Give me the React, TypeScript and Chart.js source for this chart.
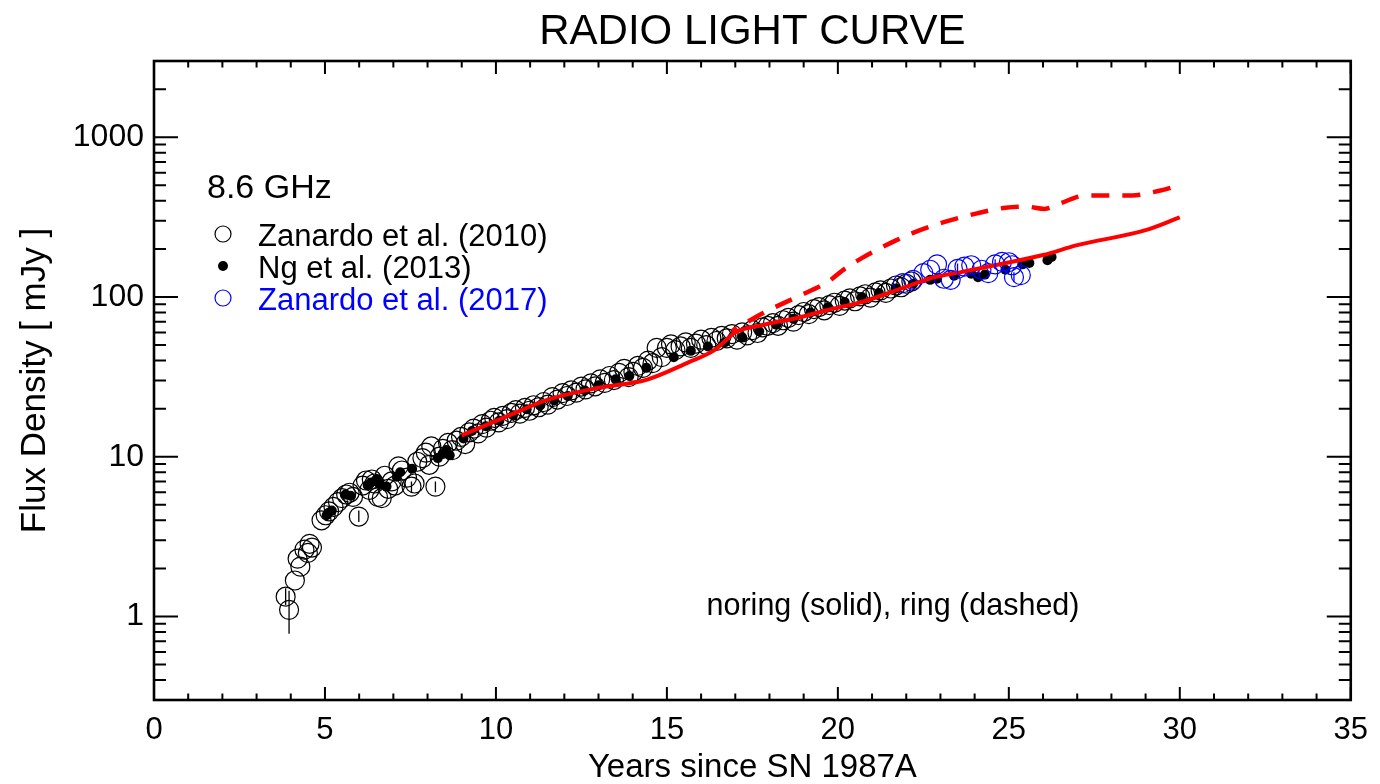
import React, { useEffect, useRef } from "react";
import { Chart, registerables } from "chart.js";

Chart.register(...registerables);

const FONT = '"Liberation Sans", Arial, Helvetica, sans-serif';

// ---- texts ----
const TITLE = "RADIO LIGHT CURVE";
const X_TITLE = "Years since SN 1987A";
const Y_TITLE = "Flux Density [ mJy ]";
const LEGEND_HEADER = "8.6 GHz";
const NOTE = "noring (solid), ring (dashed)";

// ---- axes ----
const X_MIN = 0;
const X_MAX = 35;
const Y_MIN = 0.3;
const Y_MAX = 3000;
const X_LABELED_TICKS = [0, 5, 10, 15, 20, 25, 30, 35];
const Y_LABELED_TICKS = [1, 10, 100, 1000];
const Y_DECADES = [0.1, 1, 10, 100, 1000];
const Y_MULTIPLIERS = [1, 2, 3, 4, 5, 6, 7, 8, 9];

// ---- Zanardo et al. (2010): open black circles ----
const ZAN2010_YEARS = [
  3.85, 3.95, 4.12, 4.2, 4.28, 4.4, 4.5, 4.55, 4.62, 4.9, 5.02, 5.12, 5.25, 5.38, 5.5, 5.62, 5.72, 5.82,
  5.99, 6.1, 6.2, 6.3, 6.37, 6.45, 6.55, 6.66, 6.75, 6.85, 6.95, 7.05, 7.15, 7.25, 7.4, 7.53, 7.62, 7.7,
  7.85, 7.95, 8.05, 8.11, 8.23, 8.35, 8.45, 8.6, 8.72, 8.85, 8.98, 9.1, 9.22, 9.35, 9.48, 9.6, 9.72, 9.85,
  9.95, 10.08, 10.2, 10.32, 10.45, 10.58, 10.7, 10.85, 10.98, 11.1, 11.25, 11.4, 11.52, 11.65, 11.8, 11.95,
  12.08, 12.2, 12.35, 12.5, 12.62, 12.78, 12.9, 13.05, 13.18, 13.32, 13.45, 13.6, 13.75, 13.88, 14.02,
  14.15, 14.3, 14.45, 14.58, 14.7, 14.85, 15.0, 15.12, 15.25, 15.4, 15.55, 15.7, 15.85, 16.0, 16.15, 16.3,
  16.45, 16.6, 16.75, 16.9, 17.05, 17.2, 17.35, 17.5, 17.65, 17.8, 17.95, 18.1, 18.25, 18.4, 18.55, 18.7,
  18.85, 19.0, 19.15, 19.3, 19.45, 19.6, 19.75, 19.9, 20.05, 20.2, 20.35, 20.5, 20.65, 20.8, 20.95, 21.1,
  21.25, 21.4, 21.55, 21.7, 21.85, 22.0, 22.15,
];
const ZAN2010_FLUX = [
  1.33, 1.1, 1.68, 2.3, 2.05, 2.62, 2.5, 2.85, 2.7, 4.0, 4.3, 4.55, 4.85, 5.2, 5.5, 5.8, 5.95, 5.6,
  4.22, 6.6, 7.1, 6.2, 7.2, 6.8, 5.6, 5.5, 7.6, 6.3, 7.0, 6.6, 8.7, 8.2, 7.4, 6.5, 6.8, 9.3,
  9.8, 10.6, 8.9, 11.6, 6.5, 10.0, 11.2, 12.2, 11.0, 12.6, 13.3, 12.0, 14.2, 15.0, 14.0, 16.0, 15.2, 16.8,
  17.5, 16.4, 18.0, 17.2, 18.8, 19.6, 18.6, 20.2, 19.4, 21.0, 20.4, 22.0, 21.2, 23.6, 22.8, 25.0,
  24.0, 26.0, 25.2, 27.5, 26.4, 28.8, 27.6, 30.5, 29.0, 32.0, 30.2, 33.5, 35.5, 31.5, 34.0,
  37.0, 36.0, 40.0, 38.5, 48.0, 42.0, 48.0, 50.5, 46.5, 49.0, 52.0, 48.0, 51.0, 54.0, 50.0, 55.5,
  53.0, 57.0, 55.0, 58.5, 54.0, 60.0, 57.5, 62.0, 59.5, 64.5, 66.0, 68.5, 66.0, 71.5, 74.0, 70.0,
  77.0, 80.5, 78.0, 84.0, 86.5, 82.5, 89.0, 92.0, 88.0, 95.0, 98.0, 94.0, 101, 104, 99.0, 107,
  110, 106, 113, 118, 115, 121, 125,
];

// ---- Ng et al. (2013): filled black dots ----
const NG2013_YEARS = [
  5.05, 5.1, 5.2, 5.6, 5.75, 6.25, 6.35, 6.5, 6.6, 6.8, 7.1, 7.2, 7.55, 8.3, 8.45, 8.55, 8.65, 9.05,
  9.3, 9.7, 10.1, 10.5, 10.9, 11.3, 11.7, 12.1, 12.6, 13.0, 13.5, 13.9, 14.4, 15.2, 15.7, 16.2, 16.7,
  17.2, 17.7, 18.2, 18.7, 19.2, 19.7, 20.2, 20.7, 21.2, 21.7, 22.2, 22.7, 22.9, 23.4, 23.9, 24.1, 24.3,
  24.9, 25.4, 25.6, 26.13, 26.25,
];
const NG2013_FLUX = [
  4.3, 4.45, 4.6, 5.8, 5.7, 6.6, 6.9, 7.2, 6.7, 6.5, 7.5, 8.0, 8.4, 9.8, 10.5, 11.0, 10.2, 13.0,
  14.5, 15.5, 16.8, 18.2, 19.8, 21.0, 22.5, 24.0, 26.0, 28.0, 30.5, 32.0, 36.0, 42.0, 46.0, 49.0, 52.0,
  56.0, 61.0, 67.0, 73.0, 80.0, 86.0, 93.0, 100, 106, 113, 121, 128, 130, 136, 140, 133, 138,
  148, 160, 163, 170, 178,
];

// ---- Zanardo et al. (2017): open blue circles ----
const ZAN2017_YEARS = [21.9, 22.2, 22.5, 22.7, 22.9, 23.1, 23.3, 23.5, 23.7, 23.9, 24.2, 24.4, 24.6, 24.8, 25.0, 25.1, 25.15, 25.35];
const ZAN2017_FLUX = [122, 128, 141, 148, 160, 130, 128, 150, 155, 158, 148, 141, 160, 166, 165, 158, 133, 137];

// ---- error bars (years, low, high) ----
const ERR2010_YEARS = [3.85, 3.95, 5.99, 7.53, 8.23];
const ERR2010_LOW = [1.18, 0.78, 3.9, 6.0, 6.0];
const ERR2010_HIGH = [1.5, 1.45, 4.6, 7.0, 7.0];
const ERR2017_YEARS = [23.5, 24.6, 25.15];
const ERR2017_LOW = [140, 150, 124];
const ERR2017_HIGH = [162, 172, 143];

// ---- models ----
const NORING_YEARS = [9.0, 10.3, 11.5, 13.0, 14.4, 15.6, 16.4, 17.0, 17.8, 18.8, 19.7, 20.7, 21.7, 22.3, 22.7, 23.6, 24.6, 26.0, 27.0, 29.0, 30.0];
const NORING_FLUX = [13.6, 17.8, 22.7, 27.0, 30.3, 38.7, 46.6, 60.0, 66.8, 73.9, 82.9, 93.0, 110, 122, 131, 143, 158, 183, 211, 262, 315];
const RING_YEARS = [16.9, 17.8, 18.8, 19.7, 20.2, 20.7, 21.2, 21.7, 22.2, 23.1, 24.1, 24.9, 25.5, 26.05, 26.5, 27.2, 28.0, 28.6, 29.4, 30.05];
const RING_FLUX = [61, 79, 100, 124, 150, 175, 200, 226, 252, 294, 335, 362, 368, 356, 385, 430, 432, 432, 462, 505];

const toPoints = (xs: number[], ys: number[]) => xs.map((x, i) => ({ x, y: ys[i] }));

const Y_TICKS: number[] = [];
Y_DECADES.forEach((d) =>
  Y_MULTIPLIERS.forEach((m) => {
    const v = parseFloat((m * d).toPrecision(6));
    if (v >= Y_MIN - 1e-9 && v <= Y_MAX + 1e-9) Y_TICKS.push(v);
  })
);

const errorBarPlugin = {
  id: "errorBars",
  afterDatasetsDraw(chart: any) {
    const { ctx, scales } = chart;
    const { x, y } = scales;
    const draw = (xs: number[], lo: number[], hi: number[], color: string) => {
      ctx.save();
      ctx.strokeStyle = color;
      ctx.lineWidth = 1.3;
      ctx.beginPath();
      xs.forEach((v, i) => {
        const px = x.getPixelForValue(v);
        ctx.moveTo(px, y.getPixelForValue(lo[i]));
        ctx.lineTo(px, y.getPixelForValue(hi[i]));
      });
      ctx.stroke();
      ctx.restore();
    };
    draw(ERR2010_YEARS, ERR2010_LOW, ERR2010_HIGH, "#000");
    draw(ERR2017_YEARS, ERR2017_LOW, ERR2017_HIGH, "#0000ff");
  },
};

const framePlugin = {
  id: "frame",
  afterDatasetsDraw(chart: any) {
    const { ctx, chartArea: a, scales } = chart;
    const { x, y } = scales;
    ctx.save();
    ctx.strokeStyle = "#000";
    ctx.lineWidth = 2;
    ctx.beginPath();
    x.ticks.forEach((t: any) => {
      const px = x.getPixelForValue(t.value);
      const len = X_LABELED_TICKS.includes(t.value) ? 13 : 6.5;
      ctx.moveTo(px, a.bottom);
      ctx.lineTo(px, a.bottom - len);
      ctx.moveTo(px, a.top);
      ctx.lineTo(px, a.top + len);
    });
    y.ticks.forEach((t: any) => {
      const py = y.getPixelForValue(t.value);
      const len = Y_LABELED_TICKS.includes(t.value) ? 24 : 12;
      ctx.moveTo(a.left, py);
      ctx.lineTo(a.left + len, py);
      ctx.moveTo(a.right, py);
      ctx.lineTo(a.right - len, py);
    });
    ctx.stroke();
    ctx.lineWidth = 2.6;
    ctx.strokeRect(a.left, a.top, a.right - a.left, a.bottom - a.top);
    ctx.restore();
  },
};

const textPlugin = {
  id: "texts",
  afterDraw(chart: any) {
    const { ctx, chartArea: a, data } = chart;
    ctx.save();
    ctx.textBaseline = "middle";
    ctx.textAlign = "left";
    ctx.fillStyle = "#000";
    ctx.font = `34px ${FONT}`;
    ctx.fillText(LEGEND_HEADER, a.left + 53, a.top + 128);
    const rows = [4, 3, 2];
    rows.forEach((di, r) => {
      const ds = data.datasets[di];
      const cy = a.top + 173 + r * 32;
      const cx = a.left + 69;
      ctx.beginPath();
      if (ds.legendFilled) {
        ctx.fillStyle = ds.backgroundColor;
        ctx.arc(cx, cy, 5, 0, Math.PI * 2);
        ctx.fill();
      } else {
        ctx.strokeStyle = ds.borderColor;
        ctx.lineWidth = 1.2;
        ctx.arc(cx, cy, 8, 0, Math.PI * 2);
        ctx.stroke();
      }
      ctx.fillStyle = ds.legendTextColor;
      ctx.font = `31px ${FONT}`;
      ctx.fillText(ds.label, a.left + 104, cy + 3);
    });
    ctx.textAlign = "center";
    ctx.fillStyle = "#000";
    ctx.font = `30.5px ${FONT}`;
    ctx.fillText(NOTE, a.left + 739, a.top + 546);
    ctx.restore();
  },
};

export default function App() {
  const ref = useRef<HTMLCanvasElement | null>(null);
  useEffect(() => {
    if (!ref.current) return;
    const chart = new Chart(ref.current, {
      type: "scatter",
      data: {
        datasets: [
          {
            type: "line",
            label: "noring",
            data: toPoints(NORING_YEARS, NORING_FLUX),
            borderColor: "#ff0000",
            borderWidth: 4,
            pointRadius: 0,
            cubicInterpolationMode: "monotone",
            fill: false,
          },
          {
            type: "line",
            label: "ring",
            data: toPoints(RING_YEARS, RING_FLUX),
            borderColor: "#ff0000",
            borderWidth: 4.5,
            borderDash: [18, 13],
            borderDashOffset: 12,
            pointRadius: 0,
            cubicInterpolationMode: "monotone",
            fill: false,
          },
          {
            label: "Zanardo et al. (2017)",
            data: toPoints(ZAN2017_YEARS, ZAN2017_FLUX),
            pointStyle: "circle",
            pointRadius: 9.5,
            borderColor: "#0000ff",
            borderWidth: 1.2,
            backgroundColor: "rgba(0,0,0,0)",
            legendTextColor: "#0000ff",
          } as any,
          {
            label: "Ng et al. (2013)",
            data: toPoints(NG2013_YEARS, NG2013_FLUX),
            pointStyle: "circle",
            pointRadius: 5,
            borderWidth: 0,
            borderColor: "#000",
            backgroundColor: "#000",
            legendFilled: true,
            legendTextColor: "#000",
          } as any,
          {
            label: "Zanardo et al. (2010)",
            data: toPoints(ZAN2010_YEARS, ZAN2010_FLUX),
            pointStyle: "circle",
            pointRadius: 9.5,
            borderColor: "#000",
            borderWidth: 1.2,
            backgroundColor: "rgba(0,0,0,0)",
            legendTextColor: "#000",
          } as any,
        ],
      },
      options: {
        animation: false,
        responsive: false,
        devicePixelRatio: 1,
        layout: { padding: { left: 0, right: 21, top: 0, bottom: 0 } },
        plugins: {
          legend: { display: false },
          tooltip: { enabled: false },
          title: {
            display: true,
            text: TITLE,
            fullSize: false,
            color: "#000",
            font: { family: FONT, size: 42, weight: "normal", lineHeight: 1.2 },
            padding: { top: 7, bottom: 3.6 },
          },
        },
        scales: {
          x: {
            type: "linear",
            position: "bottom",
            min: X_MIN,
            max: X_MAX,
            grid: { display: false, drawTicks: false },
            border: { display: false },
            ticks: {
              stepSize: 1,
              autoSkip: false,
              maxRotation: 0,
              padding: 12,
              color: "#000",
              font: { family: FONT, size: 31, lineHeight: 1.2 },
              callback: (v: any) => (X_LABELED_TICKS.includes(v) ? String(v) : ""),
            },
            title: {
              display: true,
              text: X_TITLE,
              color: "#000",
              font: { family: FONT, size: 33, lineHeight: 1 },
              padding: { top: 0, bottom: 0 },
            },
            afterFit: (s: any) => {
              s.height = 84;
            },
          },
          y: {
            type: "logarithmic",
            position: "left",
            min: Y_MIN,
            max: Y_MAX,
            grid: { display: false, drawTicks: false },
            border: { display: false },
            afterBuildTicks: (s: any) => {
              s.ticks = Y_TICKS.map((v) => ({ value: v }));
            },
            ticks: {
              autoSkip: false,
              padding: 10,
              color: "#000",
              font: { family: FONT, size: 32, lineHeight: 1.2 },
              callback: (v: any) => (Y_LABELED_TICKS.includes(v) ? String(v) : ""),
            },
            title: {
              display: true,
              text: Y_TITLE,
              color: "#000",
              font: { family: FONT, size: 35, lineHeight: 1.2 },
              padding: { top: 14, bottom: 0 },
            },
            afterFit: (s: any) => {
              s.width = 154;
            },
          },
        },
      } as any,
      plugins: [errorBarPlugin, framePlugin, textPlugin],
    });
    return () => chart.destroy();
  }, []);
  return (
    <div style={{ position: "fixed", left: 0, top: 0, width: 1380, height: 784, background: "#fff" }}>
      <canvas ref={ref} width={1380} height={784} style={{ display: "block" }} />
    </div>
  );
}
